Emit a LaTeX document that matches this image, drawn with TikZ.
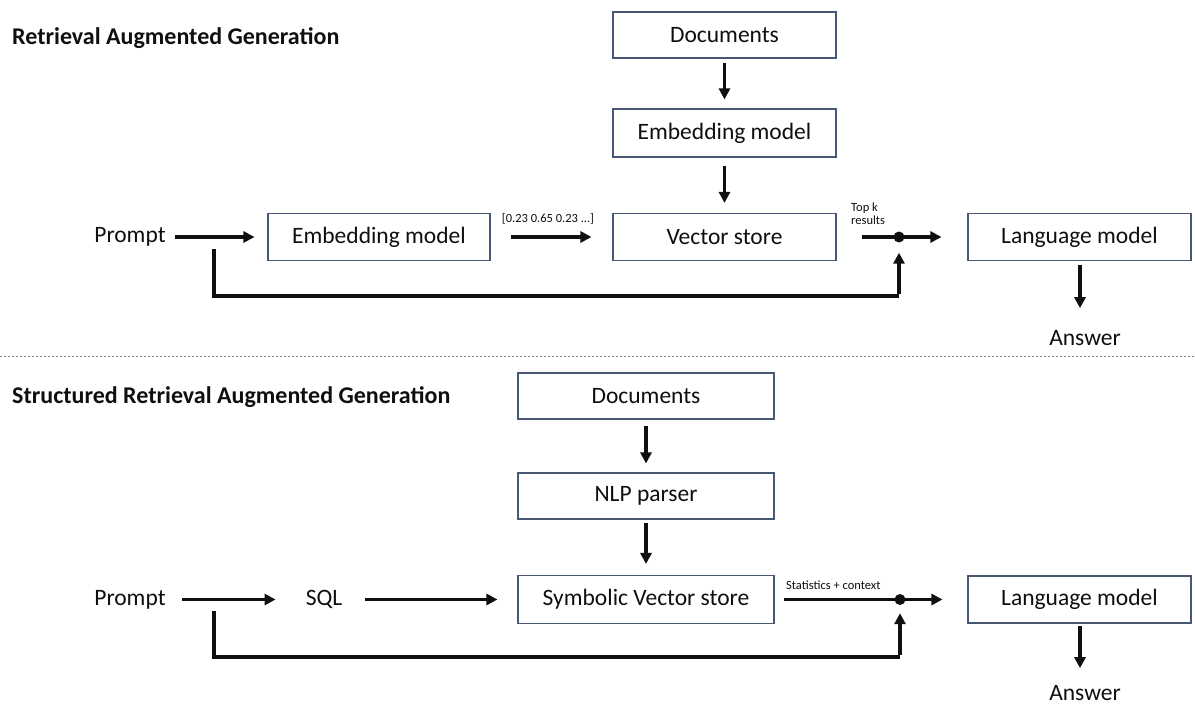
\documentclass[tikz,border=0pt]{standalone}
\usepackage{fontspec}
\setmainfont{Carlito}
\usetikzlibrary{arrows.meta}
\definecolor{boxline}{RGB}{72,88,116}
\definecolor{ink}{RGB}{15,15,15}
\tikzset{
  stagebox/.style={draw=boxline, line width=1.1pt, fill=white, inner sep=0pt,
    font=\fontsize{23.5}{28}\selectfont, text=ink},
  plain/.style={inner sep=0pt, font=\fontsize{23.5}{28}\selectfont, text=ink},
  heading/.style={inner sep=0pt, anchor=west, font=\fontsize{24}{29}\bfseries\selectfont, text=ink},
  tag/.style={inner sep=0pt, font=\fontsize{12.5}{15}\selectfont, text=ink, align=left},
  flow/.style={line width=3.2pt, draw=ink, -{Triangle[length=11pt,width=11pt]}},
  feed/.style={line width=3.2pt, draw=ink},
  joint/.style={circle, fill=ink, inner sep=0pt, minimum size=11pt},
  divider/.style={draw=gray, line width=1pt, dash pattern=on 2pt off 2pt}
}
\begin{document}
\begin{tikzpicture}[x=1pt, y=-1pt]
\useasboundingbox (0,0) rectangle (1195,704);

% ---------- Retrieval Augmented Generation ----------
\node[heading] (titleA) at (12,38) {Retrieval Augmented Generation};

\node[stagebox, minimum width=223pt, minimum height=46pt] (docA) at (724.5,35) {Documents};
\node[stagebox, minimum width=223pt, minimum height=48pt] (embA) at (724.5,133) {Embedding model};
\node[stagebox, minimum width=223pt, minimum height=47pt] (vsA)  at (724.5,237) {Vector store};
\node[stagebox, minimum width=222pt, minimum height=47pt] (embP) at (379,237) {Embedding model};
\node[stagebox, minimum width=223pt, minimum height=47pt] (lmA)  at (1079.5,237) {Language model};
\node[plain] (promptA) at (130,237) {Prompt};
\node[plain] (answerA) at (1085,338) {Answer};
\node[joint] (jA) at (899,237) {};
\coordinate (fbA) at (214,249);

\draw[flow] ([yshift=-4pt]docA.south) -- ([yshift=9pt]embA.north);
\draw[flow] ([yshift=-8pt]embA.south) -- ([yshift=10pt]vsA.north);
\draw[flow] ([xshift=9pt]promptA.east) -- ([xshift=-13pt]embP.west);
\draw[flow] ([xshift=20pt]embP.east) -- ([xshift=-21pt]vsA.west);
\node[tag] (vecA) at (548,219) {[0.23 0.65 0.23 ...]};
\draw[feed] ([xshift=25pt]vsA.east) -- (jA.center);
\draw[flow] (jA.center) -- ([xshift=-26pt]lmA.west);
\node[tag, anchor=north west] (topkA) at (851,203) {Top k\\[-2pt]results};
\draw[feed] (fbA) |- (899,296) coordinate (fbA2);
\draw[flow] ([yshift=1.6pt]fbA2) -- ([yshift=-10pt]jA.south);
\draw[flow] ([yshift=-4pt,xshift=0.5pt]lmA.south) -- ([xshift=-5pt,yshift=22pt]answerA.north);

% ---------- divider ----------
\coordinate (dl) at (0,356);
\coordinate (dr) at (1195,356);
\draw[divider] (dl) -- (dr);

% ---------- Structured Retrieval Augmented Generation ----------
\node[heading] (titleB) at (12,397) {Structured Retrieval Augmented Generation};

\node[stagebox, minimum width=256pt, minimum height=46pt] (docB) at (646,396) {Documents};
\node[stagebox, minimum width=256pt, minimum height=46pt] (nlpB) at (646,496) {NLP parser};
\node[stagebox, minimum width=256pt, minimum height=48pt] (svsB) at (646,599.5) {Symbolic Vector store};
\node[stagebox, minimum width=223pt, minimum height=47pt] (lmB)  at (1079.5,599.5) {Language model};
\node[plain] (promptB) at (130,599.5) {Prompt};
\node[plain] (sqlB) at (324,599.5) {SQL};
\node[plain] (answerB) at (1085,693) {Answer};
\node[joint] (jB) at (900,599.5) {};
\coordinate (fbB) at (214,611);

\draw[flow] ([yshift=-6pt]docB.south) -- ([yshift=9pt]nlpB.north);
\draw[flow] ([yshift=-3pt]nlpB.south) -- ([yshift=11pt]svsB.north);
\draw[flow] ([xshift=16pt]promptB.east) -- ([xshift=-30pt]sqlB.west);
\draw[flow] ([xshift=23pt]sqlB.east) -- ([xshift=-20pt]svsB.west);
\draw[feed] ([xshift=9pt]svsB.east) -- (jB.center);
\draw[flow] (jB.center) -- ([xshift=-25pt]lmB.west);
\node[tag, anchor=west] (statB) at (786,585) {Statistics + context};
\draw[feed] (fbB) |- (900,657) coordinate (fbB2);
\draw[flow] ([yshift=1.6pt]fbB2) -- ([yshift=-8pt]jB.south);
\draw[flow] ([yshift=-2pt,xshift=0.5pt]lmB.south) -- ([xshift=-5pt,yshift=17pt]answerB.north);
\end{tikzpicture}
\end{document}
